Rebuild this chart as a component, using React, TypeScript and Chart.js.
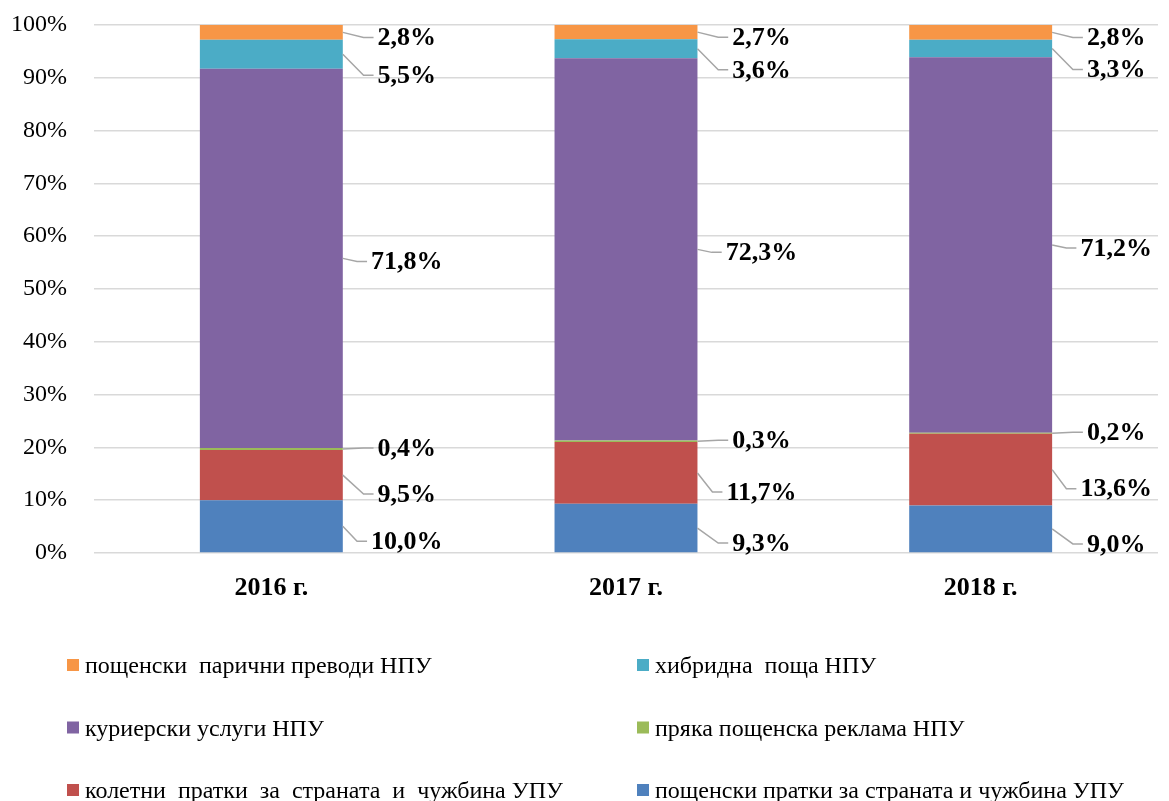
import React, { useEffect, useRef } from "react";
import { Chart, registerables } from "chart.js";

Chart.register(...registerables);

// ---- Data ----
const CATEGORIES = ["2016 г.", "2017 г.", "2018 г."];

// series, bottom of stack to top
const POSTAL_ITEMS = [10.0, 9.3, 9.0];
const PARCELS = [9.5, 11.7, 13.6];
const DIRECT_MAIL = [0.4, 0.3, 0.2];
const COURIER = [71.8, 72.3, 71.2];
const HYBRID_MAIL = [5.5, 3.6, 3.3];
const MONEY_ORDERS = [2.8, 2.7, 2.8];

const SERIES_NAMES = [
  "пощенски пратки за страната и чужбина УПУ",
  "колетни  пратки  за  страната  и  чужбина УПУ",
  "пряка пощенска реклама НПУ",
  "куриерски услуги НПУ",
  "хибридна  поща НПУ",
  "пощенски  парични преводи НПУ",
];
const SERIES_VALUES = [POSTAL_ITEMS, PARCELS, DIRECT_MAIL, COURIER, HYBRID_MAIL, MONEY_ORDERS];
const Y_TICK_STEP = 10;
const Y_MAX = 100;

// ---- Styles ----
const COLORS = ["#4F81BD", "#C0504D", "#9BBB59", "#8064A2", "#4BACC6", "#F79646"];
// vertical shift of each series' label relative to its segment centre (px)
const LABEL_DY = [15, 19, -1, 3, 21, 5];
const SERIF = "'Liberation Serif', 'Times New Roman', serif";

const fmt = (v: number) => v.toFixed(1).replace(".", ",") + "%";

const totals = CATEGORIES.map((_, j) => SERIES_VALUES.reduce((s, arr) => s + arr[j], 0));

const labelsPlugin = {
  id: "leaderLabels",
  afterDatasetsDraw(chart: any) {
    const ctx = chart.ctx;
    ctx.save();
    ctx.font = `bold 26px ${SERIF}`;
    ctx.fillStyle = "#000";
    ctx.textBaseline = "middle";
    ctx.textAlign = "left";
    chart.data.datasets.forEach((ds: any, i: number) => {
      const meta = chart.getDatasetMeta(i);
      meta.data.forEach((el: any, j: number) => {
        const right = el.x + el.width / 2;
        const segY = (el.y + el.base) / 2;
        const text = fmt(ds.raw[j]);
        const w = ctx.measureText(text).width;
        const cx = right + 64;
        const left = cx - w / 2;
        const ly = segY + LABEL_DY[i];
        ctx.strokeStyle = "#a6a6a6";
        ctx.lineWidth = 1.5;
        ctx.beginPath();
        ctx.moveTo(right, segY);
        ctx.lineTo(left - 14, ly);
        ctx.lineTo(left - 4, ly);
        ctx.stroke();
        ctx.fillText(text, left, ly + 1);
      });
    });
    ctx.restore();
  },
};

const legendPlugin = {
  id: "gridLegend",
  afterDraw(chart: any) {
    const ctx = chart.ctx;
    ctx.save();
    ctx.font = `24px ${SERIF}`;
    ctx.textBaseline = "middle";
    ctx.textAlign = "left";
    const n = chart.data.datasets.length;
    for (let k = 0; k < n; k++) {
      const idx = n - 1 - k;
      const ds = chart.data.datasets[idx];
      const col = k % 2;
      const row = Math.floor(k / 2);
      const x = col === 0 ? 67 : 637;
      const y = 665 + row * 62.5;
      ctx.fillStyle = ds.backgroundColor;
      ctx.fillRect(x, y - 6, 12, 12);
      ctx.fillStyle = "#000";
      ctx.fillText(ds.label, x + 18, y + 2);
    }
    ctx.restore();
  },
};

export default function App() {
  const ref = useRef<HTMLCanvasElement>(null);
  useEffect(() => {
    if (!ref.current) return;
    const chart = new Chart(ref.current, {
      type: "bar",
      data: {
        labels: CATEGORIES,
        datasets: SERIES_VALUES.map((vals, i) => ({
          label: SERIES_NAMES[i],
          data: vals.map((v, j) => (v / totals[j]) * 100),
          raw: vals,
          backgroundColor: COLORS[i],
          borderWidth: 0,
          categoryPercentage: 1,
          barPercentage: 0.403,
        })) as any,
      },
      options: {
        animation: false,
        responsive: false,
        devicePixelRatio: 1,
        layout: { padding: { top: 25, right: 11, bottom: 188, left: 0 } },
        plugins: { legend: { display: false }, tooltip: { enabled: false } },
        scales: {
          x: {
            stacked: true,
            grid: { display: false },
            border: { display: false },
            ticks: { color: "#000", font: { family: SERIF, size: 26, weight: "bold" }, padding: 12 },
            afterFit: (s: any) => {
              s.height = 60;
              s.paddingLeft = 0;
              s.paddingRight = 0;
            },
          },
          y: {
            stacked: true,
            min: 0,
            max: Y_MAX,
            grid: { color: "#d9d9d9", lineWidth: 1.5, drawTicks: false },
            border: { display: false },
            ticks: {
              stepSize: Y_TICK_STEP,
              color: "#000",
              padding: 27,
              font: { family: SERIF, size: 24 },
              callback: (v: any) => v + "%",
            },
            afterFit: (s: any) => {
              s.width = 94;
              s.paddingTop = 0;
              s.paddingBottom = 0;
            },
          },
        },
      },
      plugins: [labelsPlugin, legendPlugin],
    });
    return () => chart.destroy();
  }, []);
  return (
    <div style={{ position: "fixed", left: 0, top: 0, width: 1169, height: 801, background: "#fff" }}>
      <canvas ref={ref} width={1169} height={801} style={{ width: 1169, height: 801 }} />
    </div>
  );
}
